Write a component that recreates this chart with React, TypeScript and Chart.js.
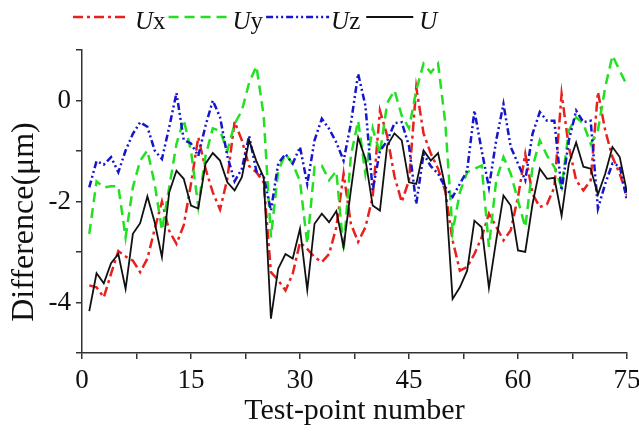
import React, { useEffect, useRef } from "react";
import { Chart, registerables } from "chart.js";

Chart.register(...registerables);

const testPoints = Array.from({ length: 75 }, (_, i) => i + 1);

const Ux = [
  -3.66, -3.7, -3.9, -3.43, -2.98, -3.09, -3.17, -3.4, -3.13, -2.55,
  -2.0, -2.58, -2.84, -2.47, -1.65, -0.73, -1.35, -1.82, -2.16, -1.55,
  -0.42, -0.79, -1.3, -1.42, -1.62, -3.4, -3.56, -3.76, -3.43, -2.81,
  -2.94, -3.1, -3.2, -3.04, -2.51, -1.45, -2.44, -2.8, -2.51, -1.91,
  -0.2, -0.7, -1.5, -2.01, -1.58, 0.26, -0.65, -1.05, -1.35, -1.8,
  -2.77, -3.37, -3.3, -3.04, -2.71, -2.24, -2.5, -2.77, -2.57, -1.91,
  -1.06, -1.85, -2.11, -2.05, -1.72, 0.13, -0.92, -1.58, -1.78, -1.58,
  0.17, -0.59, -1.12, -1.45, -1.88,
];

const Uy = [
  -2.64, -1.6, -1.72, -1.7, -1.7, -2.71, -1.72, -1.19, -0.99, -1.65,
  -2.57, -1.72, -0.86, -0.38, -1.0, -2.1, -1.1, -0.55, -0.6, -1.0,
  -0.46, -0.2, 0.35, 0.68, -0.3, -2.71, -1.39, -1.06, -1.25, -1.6,
  -2.84, -1.32, -1.29, -1.58, -1.4, -2.97, -1.1, -0.4, -1.45, -0.55,
  -1.05, -0.05, 0.2, -0.3, -0.55, 0.2, 0.73, 0.55, 0.73, -0.45,
  -2.6, -1.82, -1.42, -1.35, -1.29, -2.9, -1.58, -1.12, -1.45, -1.98,
  -2.51, -1.32, -0.79, -1.09, -1.32, -1.72, -0.59, -0.33, -0.46, -0.86,
  -0.59, 0.26, 0.89, 0.59, 0.3,
];

const Uz = [
  -1.72, -1.2, -1.27, -1.12, -1.42, -0.99, -0.66, -0.43, -0.52, -0.99,
  -1.16, -0.53, 0.15, -0.78, -0.85, -1.1, -0.5, 0.0, -0.33, -1.1,
  -1.6, -1.35, -0.7, -1.4, -1.5, -2.18, -1.25, -1.06, -1.25, -0.92,
  -1.65, -0.79, -0.36, -0.56, -0.83, -1.19, -0.46, 0.53, -0.1, -1.78,
  -1.0, -0.8, -0.45, -0.43, -0.9, -2.05, -1.06, -1.3, -1.45, -1.72,
  -1.91, -1.65, -1.39, -0.2, -0.99, -1.72, -0.79, -0.07, -0.92, -1.25,
  -1.58, -0.66, -0.23, -0.4, -0.4, -1.78, -0.79, -0.2, -0.43, -0.4,
  -2.14, -1.65, -1.25, -1.3, -1.98,
];

const U = [
  -4.17, -3.42, -3.62, -3.22, -3.04, -3.73, -2.64, -2.43, -1.9, -2.41,
  -3.1, -1.82, -1.39, -1.55, -2.08, -2.14, -1.25, -1.04, -1.19, -1.62,
  -1.78, -1.52, -0.79, -1.2, -1.52, -4.32, -3.33, -3.04, -3.13, -2.54,
  -3.75, -2.44, -2.24, -2.41, -2.19, -2.9, -1.78, -0.73, -1.16, -2.08,
  -2.18, -0.89, -0.65, -0.79, -1.62, -1.65, -0.99, -1.19, -1.04, -1.72,
  -3.93, -3.7, -3.37, -2.38, -2.51, -3.71, -2.77, -1.88, -2.08, -2.97,
  -3.0, -2.05, -1.35, -1.55, -1.53, -2.28, -1.25, -0.83, -1.31, -1.35,
  -1.86, -1.45, -0.92, -1.12, -1.82,
];

const xTickLabels = [0, 15, 30, 45, 60, 75];
const yTickLabels = [-4, -2, 0];

const seriesSuffix = ["x", "y", "z", ""];
const seriesData = [Ux, Uy, Uz, U];

const FONT = "'Liberation Serif', 'Times New Roman', serif";

const styles = [
  { color: "#e8201e", dash: [10, 4, 3, 4], width: 2.5, sample: 55, gapBefore: 7 },
  { color: "#22e022", dash: [10, 6], width: 2.5, sample: 62, gapBefore: 3 },
  { color: "#1515cc", dash: [7, 3, 2, 3, 2, 3], width: 2.5, sample: 63, gapBefore: 3 },
  { color: "#111111", dash: [], width: 1.8, sample: 47, gapBefore: 6 },
];

const overlayPlugin = {
  id: "overlay",
  afterDraw(chart: any) {
    const ctx = chart.ctx as CanvasRenderingContext2D;
    const area = chart.chartArea;
    ctx.save();
    // Legend
    let x = 73;
    const lineY = 17;
    const baseY = 29;
    for (let i = 0; i < 4; i++) {
      const st = styles[i];
      if (i > 0) x += st.gapBefore;
      ctx.beginPath();
      ctx.setLineDash(st.dash);
      ctx.strokeStyle = st.color;
      ctx.lineWidth = st.width;
      ctx.moveTo(x, lineY);
      ctx.lineTo(x + st.sample, lineY);
      ctx.stroke();
      x += st.sample + (i === 0 ? 7 : i === 3 ? 6 : 2);
      ctx.setLineDash([]);
      ctx.fillStyle = "#111";
      ctx.textBaseline = "alphabetic";
      ctx.textAlign = "left";
      ctx.font = `italic 25px ${FONT}`;
      ctx.fillText("U", x, baseY);
      x += ctx.measureText("U").width;
      if (seriesSuffix[i]) {
        ctx.font = `25px ${FONT}`;
        ctx.fillText(seriesSuffix[i], x, baseY);
        x += ctx.measureText(seriesSuffix[i]).width;
      }
    }
    // Axis titles
    ctx.fillStyle = "#111";
    ctx.font = `30px ${FONT}`;
    ctx.textAlign = "center";
    ctx.textBaseline = "alphabetic";
    ctx.fillText("Test-point number", (area.left + area.right) / 2, 419);
    ctx.save();
    ctx.font = `32px ${FONT}`;
    ctx.translate(33, 222);
    ctx.rotate(-Math.PI / 2);
    ctx.fillText("Difference(\u03bcm)", 0, 0);
    ctx.restore();
    ctx.restore();
  },
};

export default function App() {
  const ref = useRef<HTMLCanvasElement | null>(null);

  useEffect(() => {
    document.body.style.margin = "0";
    if (!ref.current) return;
    const datasets = seriesData.map((arr, i) => ({
      label: "U" + seriesSuffix[i],
      data: arr.map((v, k) => ({ x: testPoints[k], y: v })),
      borderColor: styles[i].color,
      borderWidth: styles[i].width,
      borderDash: styles[i].dash,
      pointRadius: 0,
      fill: false,
      tension: 0,
      order: 4 - i,
    }));
    const chart = new Chart(ref.current, {
      type: "line",
      data: { datasets },
      options: {
        animation: false,
        responsive: false,
        devicePixelRatio: 1,
        layout: { padding: { top: 50, right: 12, left: 0, bottom: 0 } },
        plugins: { legend: { display: false }, tooltip: { enabled: false } },
        scales: {
          x: {
            type: "linear",
            min: 0,
            max: 75,
            ticks: {
              stepSize: 7.5,
              autoSkip: false,
              maxRotation: 0,
              padding: 6,
              color: "#111",
              font: { family: FONT, size: 27 },
              callback: (v: any) => (xTickLabels.includes(Number(v)) ? String(v) : ""),
            },
            grid: { drawOnChartArea: false, drawTicks: true, tickLength: 6, color: "#333", lineWidth: 1.5 },
            border: { display: true, color: "#333", width: 1.5 },
            afterFit: (s: any) => {
              s.height = 79;
              s.paddingRight = 0;
              s.paddingLeft = 0;
            },
          },
          y: {
            type: "linear",
            min: -5,
            max: 1,
            ticks: {
              stepSize: 1,
              autoSkip: false,
              padding: 5,
              color: "#111",
              font: { family: FONT, size: 27 },
              callback: (v: any) => (yTickLabels.includes(Number(v)) ? String(v) : ""),
            },
            grid: { drawOnChartArea: false, drawTicks: true, tickLength: 6, color: "#333", lineWidth: 1.5 },
            border: { display: true, color: "#333", width: 1.5 },
            afterFit: (s: any) => {
              s.width = 82;
              s.paddingTop = 0;
              s.paddingBottom = 0;
            },
          },
        },
      },
      plugins: [overlayPlugin],
    });
    return () => chart.destroy();
  }, []);

  return (
    <div style={{ width: 639, height: 432, background: "#fff" }}>
      <canvas ref={ref} width={639} height={432} style={{ display: "block" }} />
    </div>
  );
}
